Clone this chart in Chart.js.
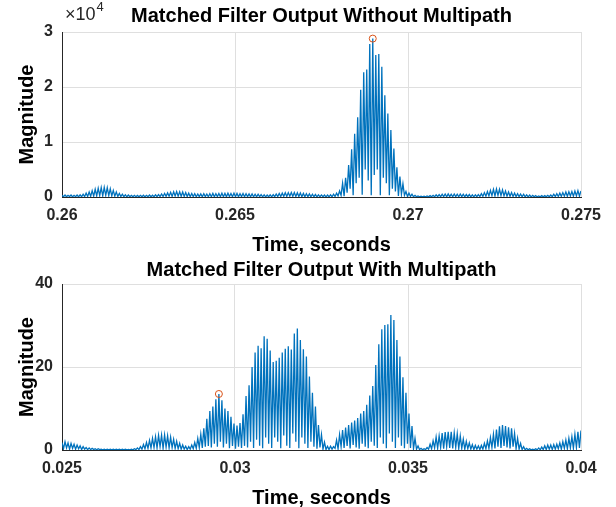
<!DOCTYPE html>
<html>
<head>
<meta charset="utf-8">
<script src="https://cdn.jsdelivr.net/npm/chart.js@4/dist/chart.umd.min.js"></script>
<style>
  html, body { margin: 0; padding: 0; background: #fff; }
  #wrap { position: relative; width: 616px; height: 507px; }
  canvas { position: absolute; left: 0; }
</style>
</head>
<body>
<div id="wrap">
  <canvas id="topChart" width="616" height="254" style="top:0px"></canvas>
  <canvas id="botChart" width="616" height="253" style="top:254px"></canvas>
</div>
<script>
// spacing between carrier peaks (about 3px per peak)
const spikeStep = 8.72e-5

// TOP: matched filter output without multipath (raw magnitude)
const topStart = 0.26
const topXTicks = [0.26, 0.265, 0.27, 0.275]
const topYTicks = [0, 10000, 20000, 30000]
const topMarkPeak = 103   // peak circled in the figure
const topPeaks = [
  300, 350, 300, 350, 300, 350, 400, 500, 700, 900,
  1150, 1400, 1600, 1700, 1750, 1700, 1500, 1200, 900, 650,
  500, 400, 350, 300, 300, 280, 300, 320, 300, 350,
  320, 400, 450, 550, 650, 750, 850, 950, 980, 950,
  900, 800, 700, 650, 600, 550, 550, 600, 550, 600,
  650, 600, 650, 700, 650, 700, 650, 700, 650, 600,
  650, 600, 550, 550, 500, 500, 450, 400, 350, 400,
  450, 550, 650, 700, 780, 800, 820, 800, 780, 720,
  650, 600, 550, 500, 450, 400, 380, 350, 350, 400,
  500, 700, 1100, 2500, 3500, 5800, 8700, 11500, 14500, 19500,
  22700, 23200, 27800, 28800, 25800, 26000, 23700, 18500, 15200, 12200,
  8800, 5400, 3700, 2400, 1000, 700, 500, 300, 200, 150,
  150, 200, 250, 300, 400, 450, 500, 550, 550, 500,
  550, 500, 550, 500, 450, 450, 400, 400, 450, 600,
  800, 1000, 1200, 1400, 1450, 1400, 1300, 1100, 900, 800,
  700, 600, 550, 500, 400, 350, 300, 250, 200, 250,
  250, 300, 350, 500, 600, 700, 800, 900, 950, 1000,
  1100, 1150, 1100
]
const topTroughs = [
  60, 40, 80, 30, 60, 40, 50, 80, 100, 120,
  150, 200, 250, 200, 300, 250, 200, 150, 100, 80,
  60, 40, 50, 30, 60, 40, 50, 30, 60, 40,
  50, 60, 80, 100, 120, 150, 120, 180, 150, 120,
  100, 80, 60, 70, 50, 60, 40, 70, 50, 60,
  40, 70, 50, 60, 40, 80, 50, 60, 40, 70,
  50, 60, 40, 50, 30, 60, 40, 30, 50, 40,
  60, 80, 100, 120, 100, 150, 120, 100, 80, 60,
  50, 60, 40, 50, 30, 40, 50, 30, 40, 50,
  100, 200, 300, 150, 800, 1500, 300, 2500, 3500, 400,
  5000, 3000, 300, 4000, 5000, 300, 3500, 2500, 300, 1500,
  1000, 200, 500, 300, 100, 100, 50, 30, 20, 30,
  40, 30, 50, 40, 60, 50, 70, 40, 60, 50,
  70, 50, 60, 40, 50, 30, 40, 60, 80, 120,
  150, 200, 250, 200, 300, 250, 200, 150, 120, 100,
  80, 60, 50, 40, 30, 20, 30, 20, 30, 40,
  30, 50, 60, 80, 100, 120, 150, 120, 180, 150,
  200, 150
]

// BOTTOM: matched filter output with multipath
const botStart = 0.025
const botXTicks = [0.025, 0.03, 0.035, 0.04]
const botYTicks = [0, 20, 40]
const botMarkPeak = 52    // first arrival, circled in the figure
const botPeaks = [
  1.8, 2.0, 1.7, 1.6, 1.4, 1.2, 1.0, 0.8, 0.6, 0.5,
  0.4, 0.3, 0.3, 0.2, 0.2, 0.2, 0.2, 0.2, 0.2, 0.2,
  0.2, 0.2, 0.15, 0.2, 0.3, 0.5, 0.8, 1.3, 1.8, 2.3,
  2.8, 3.2, 3.5, 3.6, 3.6, 3.4, 3.1, 2.6, 2.1, 1.6,
  1.2, 0.9, 0.8, 1.2, 1.8, 2.8, 3.8, 5.2, 7.5, 9.4,
  10.5, 12.2, 13.5, 12.0, 10.0, 9.4, 8.0, 6.4, 5.9, 6.5,
  8.6, 13.0, 15.6, 20.0, 23.5, 25.1, 24.5, 27.4, 26.8, 24.0,
  21.2, 21.5, 22.2, 23.5, 24.4, 25.0, 24.2, 28.1, 29.3, 26.5,
  24.3, 22.5, 17.7, 13.8, 10.5, 6.0, 3.7, 1.9, 0.9, 0.9,
  0.8, 2.4, 3.7, 4.8, 5.4, 6.0, 6.6, 7.1, 7.7, 8.8,
  9.4, 10.9, 13.1, 15.4, 20.5, 25.5, 29.1, 30.1, 30.3, 32.5,
  31.3, 26.5, 22.5, 17.5, 13.8, 8.8, 5.8, 2.8, 1.0, 0.4,
  0.3, 0.6, 1.4, 2.2, 3.1, 3.4, 4.1, 4.3, 4.4, 4.4,
  4.1, 3.9, 3.4, 2.6, 2.1, 1.7, 1.3, 1.1, 1.0, 1.1,
  1.6, 2.2, 3.0, 3.8, 4.9, 5.7, 6.0, 5.8, 5.5, 5.2,
  4.0, 2.8, 1.6, 0.8, 0.4, 0.3, 0.2, 0.3, 0.5, 0.7,
  1.0, 1.2, 1.2, 1.3, 1.4, 1.7, 2.0, 2.4, 2.8, 3.2,
  3.8, 4.4, 4.7
]
const botTroughs = [
  0.3, 0.5, 0.2, 0.4, 0.2, 0.3, 0.1, 0.2, 0.1, 0.1,
  0.1, 0.05, 0.1, 0.05, 0.05, 0.05, 0.05, 0.05, 0.05, 0.05,
  0.05, 0.05, 0.05, 0.05, 0.1, 0.1, 0.2, 0.3, 0.4, 0.5,
  0.6, 0.5, 0.8, 0.4, 0.7, 0.5, 0.6, 0.4, 0.3, 0.2,
  0.2, 0.1, 0.2, 0.3, 0.4, 0.6, 0.5, 0.8, 1.0, 0.6,
  1.5, 0.8, 2.0, 0.6, 1.5, 0.4, 1.0, 0.3, 0.8, 0.5,
  1.0, 0.6, 2.0, 0.5, 2.5, 1.0, 0.4, 3.0, 1.5, 0.5,
  3.0, 2.0, 0.4, 3.5, 1.0, 0.5, 4.0, 2.0, 0.4, 3.0,
  1.5, 0.5, 2.0, 0.8, 0.3, 0.6, 0.2, 0.1, 0.1, 0.2,
  0.4, 0.3, 0.8, 0.5, 1.0, 0.4, 1.2, 0.6, 0.3, 1.5,
  0.8, 0.4, 2.0, 1.0, 0.5, 3.0, 1.5, 0.4, 4.0, 2.0,
  0.5, 3.0, 1.0, 0.4, 1.5, 0.5, 0.3, 0.2, 0.1, 0.05,
  0.1, 0.2, 0.3, 0.5, 0.4, 0.6, 0.3, 0.8, 0.5, 0.4,
  0.6, 0.3, 0.4, 0.2, 0.3, 0.2, 0.1, 0.2, 0.1, 0.2,
  0.3, 0.4, 0.6, 0.4, 0.8, 0.5, 1.0, 0.6, 0.4, 0.8,
  0.3, 0.2, 0.1, 0.05, 0.05, 0.05, 0.05, 0.05, 0.05, 0.1,
  0.1, 0.2, 0.1, 0.2, 0.3, 0.2, 0.4, 0.3, 0.5, 0.4,
  0.6, 0.5
]

const FONT = '"Liberation Sans", Arial, Helvetica, sans-serif'
const LINE_BLUE = '#0072BD'
const MARK_RED = '#D95319'

// peaks and troughs alternate along the time axis
function buildSeries(start, peaks, troughs) {
  const pts = []
  peaks.forEach((p, i) => {
    pts.push({x: start + i * spikeStep, y: p})
    if (i < troughs.length) pts.push({x: start + (i + 0.5) * spikeStep, y: troughs[i]})
  })
  return pts
}

function markPoint(start, peaks, k) {
  return [{x: start + k * spikeStep, y: peaks[k]}]
}

// title and the x10^4 exponent, drawn like MATLAB does
const matlabText = {
  id: 'matlabText',
  afterDraw(chart, args, o) {
    const {ctx, chartArea} = chart
    ctx.save()
    ctx.fillStyle = '#000'
    ctx.textBaseline = 'middle'
    ctx.textAlign = 'center'
    ctx.font = 'bold 20px ' + FONT
    ctx.fillText(o.title, (chartArea.left + chartArea.right) / 2, o.titleY)
    if (o.exponent) {
      ctx.textAlign = 'left'
      ctx.fillStyle = '#262626'
      ctx.font = '18px ' + FONT
      ctx.fillText('\u00d710', chartArea.left + 3, 15)
      const w = ctx.measureText('\u00d710').width
      ctx.font = '13px ' + FONT
      ctx.fillText(o.exponent, chartArea.left + 4 + w, 7)
    }
    ctx.restore()
  }
}

function makeConfig(o) {
  return {
    type: 'line',
    data: {
      datasets: [
        {
          data: o.series,
          borderColor: LINE_BLUE,
          borderWidth: 1.3,
          pointRadius: 0,
          tension: 0,
          fill: false,
          order: 2
        },
        {
          data: o.marker,
          showLine: false,
          pointStyle: 'circle',
          pointRadius: 3.5,
          pointBorderWidth: 1,
          pointBorderColor: MARK_RED,
          pointBackgroundColor: 'rgba(0,0,0,0)',
          order: 1
        }
      ]
    },
    options: {
      responsive: false,
      animation: false,
      events: [],
      layout: {padding: {top: o.areaTop, right: 35, bottom: 0, left: 0}},
      plugins: {
        legend: {display: false},
        tooltip: {enabled: false},
        matlabText: {title: o.title, titleY: 16, exponent: o.exponent}
      },
      scales: {
        x: {
          type: 'linear',
          min: o.xTicks[0],
          max: o.xTicks[o.xTicks.length - 1],
          afterBuildTicks: s => { s.ticks = o.xTicks.map(v => ({value: v})) },
          afterFit: s => { s.height = o.xBoxHeight },
          ticks: {
            autoSkip: false,
            maxRotation: 0,
            padding: 9,
            color: '#262626',
            font: {family: FONT, size: 16, weight: 'bold'},
            callback: v => String(+(+v).toFixed(4))
          },
          grid: {color: '#dfdfdf', lineWidth: 1, drawTicks: false},
          border: {color: '#262626', width: 1},
          title: {
            display: true,
            text: 'Time, seconds',
            color: '#000',
            font: {family: FONT, size: 20, weight: 'bold', lineHeight: 0.9},
            padding: {top: 0, bottom: 0}
          }
        },
        y: {
          min: o.yTicks[0],
          max: o.yTicks[o.yTicks.length - 1],
          afterBuildTicks: s => { s.ticks = o.yTicks.map(v => ({value: v})) },
          afterFit: s => { s.width = 62 },
          ticks: {
            padding: 9,
            color: '#262626',
            font: {family: FONT, size: 16, weight: 'bold'},
            callback: v => String(v / o.yDiv)
          },
          grid: {color: '#dfdfdf', lineWidth: 1, drawTicks: false},
          border: {color: '#262626', width: 1},
          title: {
            display: true,
            text: 'Magnitude',
            color: '#000',
            font: {family: FONT, size: 20, weight: 'bold', lineHeight: 1},
            padding: {top: 17, bottom: 0}
          }
        }
      }
    },
    plugins: [matlabText]
  }
}

// DRAW TOP PLOT
new Chart(document.getElementById('topChart'), makeConfig({
  series: buildSeries(topStart, topPeaks, topTroughs),
  marker: markPoint(topStart, topPeaks, topMarkPeak),
  xTicks: topXTicks,
  yTicks: topYTicks,
  yDiv: 10000,
  exponent: '4',
  title: 'Matched Filter Output Without Multipath',
  areaTop: 32,
  xBoxHeight: 57
}))

// DRAW BOTTOM PLOT
new Chart(document.getElementById('botChart'), makeConfig({
  series: buildSeries(botStart, botPeaks, botTroughs),
  marker: markPoint(botStart, botPeaks, botMarkPeak),
  xTicks: botXTicks,
  yTicks: botYTicks,
  yDiv: 1,
  exponent: null,
  title: 'Matched Filter Output With Multipath',
  areaTop: 30,
  xBoxHeight: 57
}))
</script>
</body>
</html>
